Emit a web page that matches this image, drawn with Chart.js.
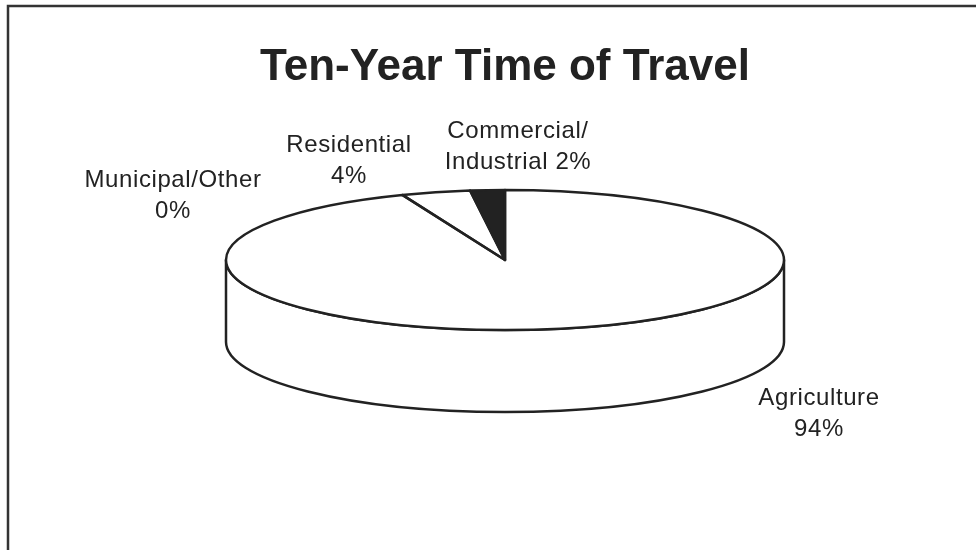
<!DOCTYPE html>
<html>
<head>
<meta charset="utf-8">
<title>Ten-Year Time of Travel</title>
<script src="https://cdn.jsdelivr.net/npm/chart.js@4.4.1/dist/chart.umd.min.js"></script>
<style>
  html, body { margin: 0; padding: 0; background: #fff; }
  #wrap { position: relative; width: 976px; height: 550px; }
</style>
</head>
<body>
<div id="wrap"><canvas id="travelPie"></canvas></div>
<script>
// Land use share inside the ten-year time of travel zone
const categories = ['Agriculture', 'Residential', 'Commercial/Industrial', 'Municipal/Other'];
const shares = [94, 4, 2, 0];
const sliceColors = ['#ffffff', '#ffffff', '#222222', '#ffffff'];
// how each category name is broken over lines in its label
const nameLines = [['Agriculture'], ['Residential'], ['Commercial/', 'Industrial'], ['Municipal/Other']];

// label anchors, offset from the pie centre (centre x, first baseline)
const labelOffsets = [[314, 145], [-156, -108], [13, -122], [-332, -73]];

const INK = '#222';
const DEPTH = 82;        // height of the cylinder wall
const LINE = 2.5;
const LABEL_FONT = '24px "Liberation Sans", Arial, sans-serif';
const LABEL_LEADING = 31;

function labelFor(i) {
  const lines = nameLines[i].slice();
  const pct = shares[i] + '%';
  if (lines.length > 1) lines[lines.length - 1] += ' ' + pct;
  else lines.push(pct);
  return lines;
}

// thin frame on the top and left edge
const framePlugin = {
  id: 'frame',
  beforeDraw(chart) {
    const ctx = chart.ctx;
    ctx.save();
    ctx.strokeStyle = '#333';
    ctx.lineWidth = 2.5;
    ctx.beginPath();
    ctx.moveTo(8, chart.height);
    ctx.lineTo(8, 6);
    ctx.lineTo(chart.width, 6);
    ctx.stroke();
    ctx.restore();
  }
};

// Stretch the flat pie into a tilted ellipse and give it a wall
const tiltPlugin = {
  id: 'tilt',
  beforeDatasetsDraw(chart) {
    const ctx = chart.ctx;
    const arcs = chart.getDatasetMeta(0).data;
    if (!arcs.length) return;
    const { x: cx, y: cy, outerRadius: ry } = arcs[0];
    const rx = chart.chartArea.width / 2;

    // front wall: only the part of each slice between 0 and PI faces us
    ctx.save();
    ctx.strokeStyle = INK;
    ctx.lineWidth = LINE;
    ctx.lineJoin = 'round';
    arcs.forEach((arc, i) => {
      const s = Math.max(arc.startAngle, 0);
      const e = Math.min(arc.endAngle, Math.PI);
      if (e - s <= 0.0001) return;
      ctx.beginPath();
      ctx.ellipse(cx, cy, rx, ry, 0, s, e);
      ctx.ellipse(cx, cy + DEPTH, rx, ry, 0, e, s, true);
      ctx.closePath();
      ctx.fillStyle = sliceColors[i];
      ctx.fill();
      ctx.stroke();
    });
    ctx.restore();

    ctx.save();
    ctx.translate(cx, cy);
    ctx.scale(rx / ry, 1);
    ctx.translate(-cx, -cy);
  },
  afterDatasetsDraw(chart) {
    const ctx = chart.ctx;
    ctx.restore();
    const arcs = chart.getDatasetMeta(0).data;
    if (!arcs.length) return;
    const { x: cx, y: cy, outerRadius: ry } = arcs[0];
    const rx = chart.chartArea.width / 2;

    // slice outlines on the top face
    ctx.save();
    ctx.strokeStyle = INK;
    ctx.lineWidth = LINE;
    ctx.lineJoin = 'round';
    arcs.forEach((arc) => {
      if (arc.endAngle - arc.startAngle <= 0.0001) return;
      ctx.beginPath();
      ctx.moveTo(cx, cy);
      ctx.ellipse(cx, cy, rx, ry, 0, arc.startAngle, arc.endAngle);
      ctx.closePath();
      ctx.stroke();
    });

    // category labels
    ctx.fillStyle = INK;
    ctx.font = LABEL_FONT;
    ctx.textAlign = 'center';
    ctx.textBaseline = 'alphabetic';
    if ('letterSpacing' in ctx) ctx.letterSpacing = '0.6px';
    categories.forEach((_, i) => {
      const [dx, dy] = labelOffsets[i];
      labelFor(i).forEach((line, k) => {
        ctx.fillText(line, cx + dx, cy + dy + k * LABEL_LEADING);
      });
    });
    ctx.restore();
  }
};

new Chart(document.getElementById('travelPie'), {
  type: 'pie',
  data: {
    labels: categories,
    datasets: [{
      data: shares,
      backgroundColor: sliceColors,
      borderWidth: 0,
      clip: false,
    }],
  },
  options: {
    responsive: true,
    maintainAspectRatio: false,
    animation: false,
    events: [],
    layout: {
      padding: { top: 41, left: 226, right: 192, bottom: 220 }
    },
    plugins: {
      legend: { display: false },
      tooltip: { enabled: false },
      title: {
        display: true,
        text: 'Ten-Year Time of Travel',
        color: INK,
        font: { family: '"Liberation Sans", Arial, sans-serif', size: 44, weight: 'bold', lineHeight: 1.2 },
        padding: { top: 0, bottom: 96.2 }
      }
    }
  },
  plugins: [framePlugin, tiltPlugin]
});
</script>
</body>
</html>
